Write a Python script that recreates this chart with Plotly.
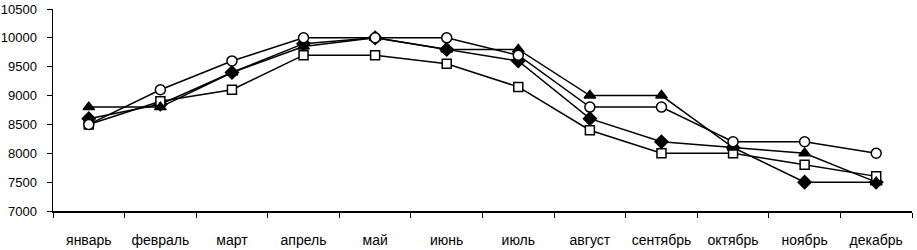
import plotly.graph_objects as go

months = ["январь", "февраль", "март", "апрель", "май", "июнь",
          "июль", "август", "сентябрь", "октябрь", "ноябрь", "декабрь"]

series_diamond = [8600, 8850, 9400, 9900, 10000, 9800, 9600, 8600, 8200, 8100, 7500, 7500]
series_square = [8500, 8900, 9100, 9700, 9700, 9550, 9150, 8400, 8000, 8000, 7800, 7600]
series_triangle = [8800, 8800, 9400, 9850, 10000, 9800, 9800, 9000, 9000, 8100, 8000, 7500]
series_circle = [8500, 9100, 9600, 10000, 10000, 10000, 9700, 8800, 8800, 8200, 8200, 8000]

y_ticks = [7000, 7500, 8000, 8500, 9000, 9500, 10000, 10500]
y_tick_labels = ["7000", "7500", "8000", "8500", "9000", "9500", "10000", "10500"]

fig = go.Figure()

def add(vals, symbol, fill, size):
    fig.add_trace(go.Scatter(
        x=months, y=vals, mode="lines+markers",
        line=dict(color="black", width=1.5),
        marker=dict(symbol=symbol, size=size, color=fill,
                    line=dict(color="black", width=1.5)),
        showlegend=False, cliponaxis=False))

add(series_diamond, "diamond", "black", 10)
add(series_square, "square", "white", 9)
add(series_triangle, "triangle-up", "black", 10)
add(series_circle, "circle", "white", 10)

fig.update_layout(
    width=917, height=250,
    margin=dict(l=53, r=5, t=9, b=39, autoexpand=False),
    paper_bgcolor="white", plot_bgcolor="white",
    font=dict(family="Liberation Sans, Arial, sans-serif", color="black"),
    xaxis=dict(
        type="category", range=[-0.5, 11.5], automargin=False,
        showline=True, linecolor="black", linewidth=1.5,
        ticks="outside", tickson="boundaries", ticklen=5, tickcolor="black",
        showgrid=False, zeroline=False,
        tickfont=dict(size=14), ticklabelstandoff=16,
    ),
    yaxis=dict(
        range=[7000, 10500], tickvals=y_ticks, ticktext=y_tick_labels,
        automargin=False,
        showline=True, linecolor="black", linewidth=1.5,
        ticks="outside", ticklen=5, tickcolor="black",
        showgrid=False, zeroline=False,
        tickfont=dict(size=13), ticklabelstandoff=7,
    ),
)

fig.write_html("out.html",
               config={"displayModeBar": False, "staticPlot": True},
               post_script="document.body.style.margin='0';document.body.style.overflow='hidden';")
